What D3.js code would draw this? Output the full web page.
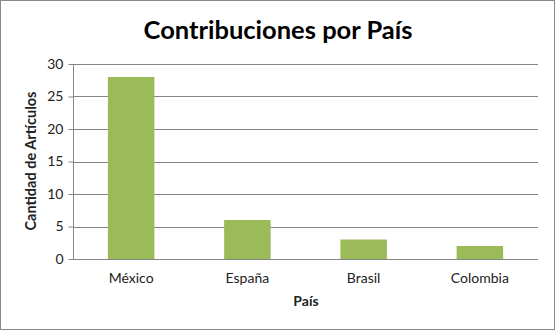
<!DOCTYPE html>
<html>
<head>
<meta charset="utf-8">
<script src="https://cdn.jsdelivr.net/npm/d3@7"></script>
<style>
  body { margin: 0; background: #fff; }
  text { font-family: Lato, "Open Sans", sans-serif; fill: #222; }
</style>
</head>
<body>
<svg id="chart"></svg>
<script>
const width = 555;
const height = 332;
const margin = { top: 64, right: 17, bottom: 73, left: 73 };

const paises = ["México", "España", "Brasil", "Colombia"];
const articulos = [28, 6, 3, 2];
const yTicks = [0, 5, 10, 15, 20, 25, 30];

const svg = d3.select("#chart").attr("width", width).attr("height", height);

svg
  .append("rect")
  .attr("x", 0.5)
  .attr("y", 0.5)
  .attr("width", width - 1)
  .attr("height", height - 3)
  .attr("fill", "#fff")
  .attr("stroke", "#888");

const chartWidth = width - margin.left - margin.right;
const chartHeight = height - margin.top - margin.bottom;

const chart = svg
  .append("g")
  .attr("transform", `translate(${margin.left}, ${margin.top})`);

const xScale = d3
  .scaleBand()
  .domain(paises)
  .range([0, chartWidth])
  .paddingInner(0.6)
  .paddingOuter(0.3);

const yScale = d3.scaleLinear().domain([0, 30]).range([chartHeight, 0]);

// gridlines
chart
  .selectAll(".grid")
  .data(yTicks.filter((d) => d > 0))
  .enter()
  .append("line")
  .attr("x1", 0)
  .attr("x2", chartWidth)
  .attr("y1", (d) => Math.round(yScale(d)) + 0.5)
  .attr("y2", (d) => Math.round(yScale(d)) + 0.5)
  .attr("stroke", "#868686");

chart
  .selectAll(".bar")
  .data(articulos)
  .enter()
  .append("rect")
  .attr("class", "bar")
  .attr("x", (d, i) => xScale(paises[i]))
  .attr("y", (d) => yScale(d))
  .attr("width", xScale.bandwidth())
  .attr("height", (d) => chartHeight - yScale(d))
  .attr("fill", "#9BBB59");

const yAxis = d3.axisLeft(yScale).tickValues(yTicks).tickSize(5).tickPadding(5);
const gy = chart.append("g").attr("transform", "translate(0.5,0)").call(yAxis);
gy.selectAll("path, line").attr("stroke", "#868686");
gy.selectAll("text").attr("font-size", 14).style("font-family", "Lato, sans-serif");
gy.select(".domain").attr("d", `M0,${chartHeight}V0`);

const xAxis = d3.axisBottom(xScale).tickSize(0).tickPadding(14);
const gx = chart
  .append("g")
  .attr("transform", `translate(0, ${chartHeight + 0.5})`)
  .call(xAxis);
gx.select(".domain").attr("stroke", "#868686").attr("d", `M0,0H${chartWidth}`);
gx.selectAll("text").attr("font-size", 14).style("font-family", "Lato, sans-serif");

svg
  .append("text")
  .attr("x", 278)
  .attr("y", 39)
  .attr("text-anchor", "middle")
  .attr("font-size", 25.5)
  .attr("font-weight", "bold")
  .style("fill", "#000")
  .text("Contribuciones por País");

svg
  .append("text")
  .attr("x", 306)
  .attr("y", 306)
  .attr("text-anchor", "middle")
  .attr("font-size", 14)
  .attr("font-weight", "bold")
  .text("País");

svg
  .append("text")
  .attr("transform", "translate(36, 161) rotate(-90)")
  .attr("text-anchor", "middle")
  .attr("font-size", 14.5)
  .attr("font-weight", "bold")
  .text("Cantidad de Artículos");
</script>
</body>
</html>
